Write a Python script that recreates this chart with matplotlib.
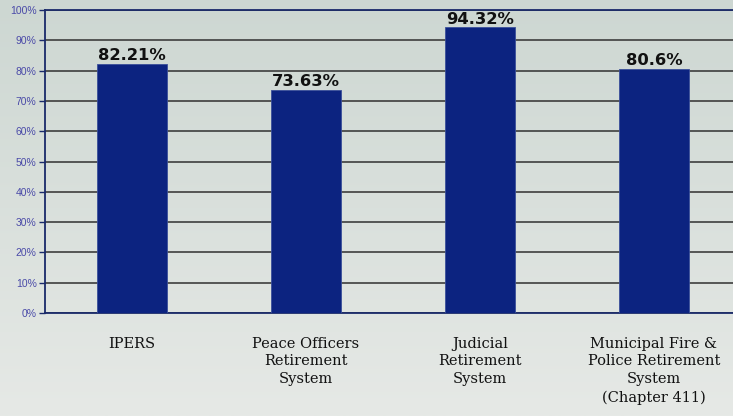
import numpy as np
import matplotlib
matplotlib.use('Agg')
import matplotlib.pyplot as plt
from matplotlib.colors import LinearSegmentedColormap

categories = ['IPERS', 'Peace Officers\nRetirement\nSystem', 'Judicial\nRetirement\nSystem',
              'Municipal Fire &\nPolice Retirement\nSystem\n(Chapter 411)']
funded = [82.21, 73.63, 94.32, 80.6]
value_labels = ['82.21%', '73.63%', '94.32%', '80.6%']
yticks = list(range(0, 101, 10))

fig = plt.figure(figsize=(7.33, 4.16), dpi=100)

# gradient background
bg = fig.add_axes([0, 0, 1, 1], zorder=-10)
cmap = LinearSegmentedColormap.from_list('bg', ['#cdd7d2', '#e6e9e6'])
bg.imshow(np.linspace(0, 1, 256).reshape(-1, 1), aspect='auto', cmap=cmap,
          extent=[0, 1, 0, 1], origin='upper')
bg.axis('off')

ax = fig.add_axes([45/733, 103/416, 696/733, 303/416])
ax.patch.set_alpha(0)
x = np.arange(len(categories))
bars = ax.bar(x, funded, width=0.40, color='#0c2380', edgecolor='#3a4f9a', linewidth=0.6, zorder=3)

for xi, v, lab in zip(x, funded, value_labels):
    ax.annotate(lab, (xi, v), xytext=(0, 0.5), textcoords='offset points',
                ha='center', va='bottom', fontsize=11.8, fontweight='bold',
                family='DejaVu Sans', color='#111111', zorder=4)

ax.set_xlim(-0.5, 3.5)
ax.set_ylim(0, 100)
ax.set_yticks(yticks)
ax.set_yticklabels([f'{t}%' for t in yticks], fontsize=7.5, color='#4a4aa8',
                   family='Liberation Sans')
ax.yaxis.grid(True, color='#303030', linewidth=1.1, zorder=1)
ax.set_xticks(x)
ax.set_xticklabels(categories, fontsize=10.5, family='DejaVu Serif', color='#111111',
                   linespacing=1.35, va='top')
ax.tick_params(axis='x', length=0, pad=17)
ax.tick_params(axis='y', length=4, width=1, color='#1a2a6a', pad=2, direction='out')

ax.spines['right'].set_visible(False)
for s in ['left', 'bottom', 'top']:
    ax.spines[s].set_color('#1a2a6a')
    ax.spines[s].set_linewidth(1.3)

fig.savefig('out.png', dpi=100)
